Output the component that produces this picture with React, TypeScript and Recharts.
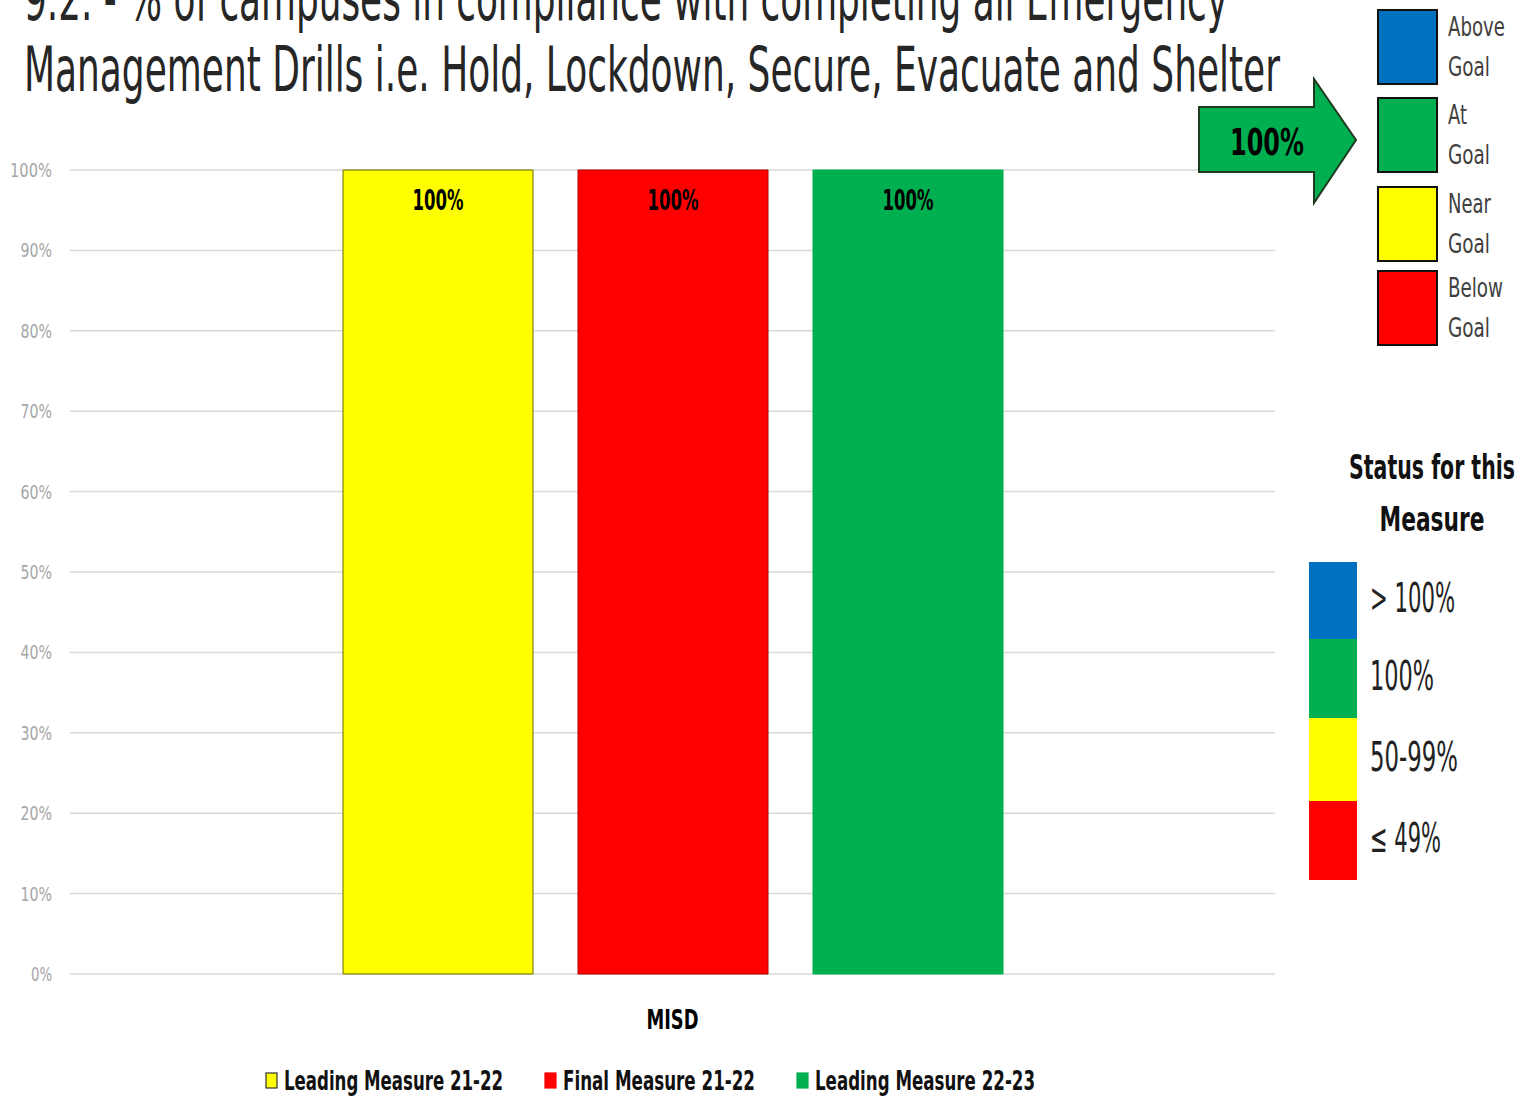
import { BarChart, Bar, XAxis, YAxis, CartesianGrid, LabelList } from 'recharts'

// chart data
const categories = ['MISD']
const leadingMeasure2122 = [1]
const finalMeasure2122 = [1]
const leadingMeasure2223 = [1]
const seriesNames = ['Leading Measure 21-22', 'Final Measure 21-22', 'Leading Measure 22-23']
const seriesKeys = ['lead2122', 'final2122', 'lead2223']
const seriesColors = ['#ffff00', '#ff0000', '#00b050']
const seriesStrokes = ['#6b6b00', '#b00000', '#00b050']
const yTicks = [0, 0.1, 0.2, 0.3, 0.4, 0.5, 0.6, 0.7, 0.8, 0.9, 1]

// side panels
const goalLabels = [['Above', 'Goal'], ['At', 'Goal'], ['Near', 'Goal'], ['Below', 'Goal']]
const goalColors = ['#0070c0', '#00b050', '#ffff00', '#ff0000']
const statusLabels = ['> 100%', '100%', '50-99%', '≤ 49%']
const statusColors = ['#0070c0', '#00b050', '#ffff00', '#ff0000']
const currentStatus = '100%'

const titleLines = [
  '9.2. - % of campuses in compliance with completing all Emergency',
  'Management Drills i.e. Hold, Lockdown, Secure, Evacuate and Shelter',
]

// the reference uses a narrow face; squeeze regular glyphs to the measured widths
const FONT = "'DejaVu Sans', sans-serif"
const wordWidth: Record<string, number> = {
  Above: 57, Goal: 42, At: 19, Near: 43, Below: 55,
  '> 100%': 85, '100%': 64, '50-99%': 88, '≤ 49%': 71,
  'Leading Measure 21-22': 219, 'Final Measure 21-22': 192, 'Leading Measure 22-23': 220,
}

const data = categories.map((name, i) => ({
  name,
  lead2122: leadingMeasure2122[i],
  final2122: finalMeasure2122[i],
  lead2223: leadingMeasure2223[i],
}))

const pct = (v: number) => `${Math.round(v * 100)}%`

function YTick({ x, y, payload }: any) {
  const label = pct(payload.value)
  return (
    <text x={x} y={y} dy={7} textAnchor="end" fontSize={20} fill="#a6a6a6" fontFamily={FONT}
      textLength={label.length * 10.5} lengthAdjust="spacingAndGlyphs">
      {label}
    </text>
  )
}

function XTick({ x, y, payload }: any) {
  return (
    <text x={x} y={y} dy={19} textAnchor="middle" fontSize={26} fontWeight="bold" fill="#000" fontFamily={FONT}
      textLength={52} lengthAdjust="spacingAndGlyphs">
      {payload.value}
    </text>
  )
}

function BarLabel({ x, y, width, value }: any) {
  return (
    <text x={x + width / 2} y={y + 40} textAnchor="middle" fontSize={28} fontWeight="bold" fill="#000" fontFamily={FONT}
      textLength={51} lengthAdjust="spacingAndGlyphs">
      {pct(Number(value))}
    </text>
  )
}

export default function App() {
  return (
    <div style={{ position: 'absolute', left: 0, top: 0, width: 1536, height: 1097, background: '#fff', fontFamily: FONT }}>
      <BarChart
        width={1536}
        height={1097}
        data={data}
        margin={{ top: 170, right: 261, bottom: 63, left: 10 }}
        barCategoryGap={273}
        barGap={45}
      >
        <CartesianGrid vertical={false} stroke="#d9d9d9" strokeWidth={1.5} />
        <XAxis dataKey="name" axisLine={false} tickLine={false} height={60} tickMargin={30} tick={<XTick />} />
        <YAxis
          width={60}
          domain={[0, 1]}
          ticks={yTicks}
          axisLine={false}
          tickLine={false}
          tickSize={0}
          tickMargin={18}
          tick={<YTick />}
        />
        {seriesKeys.map((k, i) => (
          <Bar
            key={k}
            dataKey={k}
            name={seriesNames[i]}
            fill={seriesColors[i]}
            stroke={seriesStrokes[i]}
            strokeWidth={1}
            isAnimationActive={false}
          >
            <LabelList dataKey={k} content={<BarLabel />} />
          </Bar>
        ))}
      </BarChart>

      <svg width={1536} height={1097} style={{ position: 'absolute', left: 0, top: 0, pointerEvents: 'none' }} fontFamily={FONT}>
        {/* title */}
        <text x={24} y={20} fontSize={62} fill="#262626" textLength={1204} lengthAdjust="spacingAndGlyphs">
          {titleLines[0]}
        </text>
        <text x={24} y={91} fontSize={62} fill="#262626" textLength={1256} lengthAdjust="spacingAndGlyphs">
          {titleLines[1]}
        </text>

        {/* arrow */}
        <polygon
          points="1199,107 1314,107 1314,79 1356,140 1314,203 1314,172 1199,172"
          fill="#00b050"
          stroke="#1f3b1f"
          strokeWidth={2}
        />
        <text x={1267} y={155} textAnchor="middle" fontSize={38} fontWeight="bold" fill="#000" textLength={74} lengthAdjust="spacingAndGlyphs">
          {currentStatus}
        </text>

        {/* goal boxes */}
        {goalLabels.map((lines, i) => {
          const tops = [10, 98, 187, 271]
          const y = tops[i]
          return (
            <g key={i}>
              <rect x={1378} y={y} width={59} height={74} fill={goalColors[i]} stroke="#111" strokeWidth={2} />
              <text x={1448} y={y + 26} fontSize={26} fill="#404040" textLength={wordWidth[lines[0]]} lengthAdjust="spacingAndGlyphs">{lines[0]}</text>
              <text x={1448} y={y + 66} fontSize={26} fill="#404040" textLength={wordWidth[lines[1]]} lengthAdjust="spacingAndGlyphs">{lines[1]}</text>
            </g>
          )
        })}

        {/* status table */}
        <text x={1432} y={479} textAnchor="middle" fontSize={34} fontWeight="bold" fill="#111" textLength={166} lengthAdjust="spacingAndGlyphs">
          Status for this
        </text>
        <text x={1432} y={531} textAnchor="middle" fontSize={34} fontWeight="bold" fill="#111" textLength={105} lengthAdjust="spacingAndGlyphs">
          Measure
        </text>
        {statusLabels.map((label, i) => {
          const tops = [562, 639, 718, 801]
          const bottoms = [639, 718, 801, 880]
          const y = tops[i]
          const h = bottoms[i] - tops[i]
          return (
            <g key={i}>
              <rect x={1309} y={y} width={48} height={h} fill={statusColors[i]} />
              <text x={1370} y={y + h / 2 + 11} fontSize={40} fill="#222" textLength={wordWidth[label]} lengthAdjust="spacingAndGlyphs">{label}</text>
            </g>
          )
        })}

        {/* series legend */}
        {seriesNames.map((name, i) => {
          const xs = [266, 545, 797]
          const x = xs[i]
          return (
            <g key={name}>
              <rect x={x} y={1073} width={11} height={15} fill={seriesColors[i]} stroke={i === 0 ? '#333' : seriesColors[i]} strokeWidth={1.2} />
              <text x={x + 18} y={1090} fontSize={26} fontWeight="bold" fill="#111" textLength={wordWidth[name]} lengthAdjust="spacingAndGlyphs">{name}</text>
            </g>
          )
        })}
      </svg>
    </div>
  )
}
